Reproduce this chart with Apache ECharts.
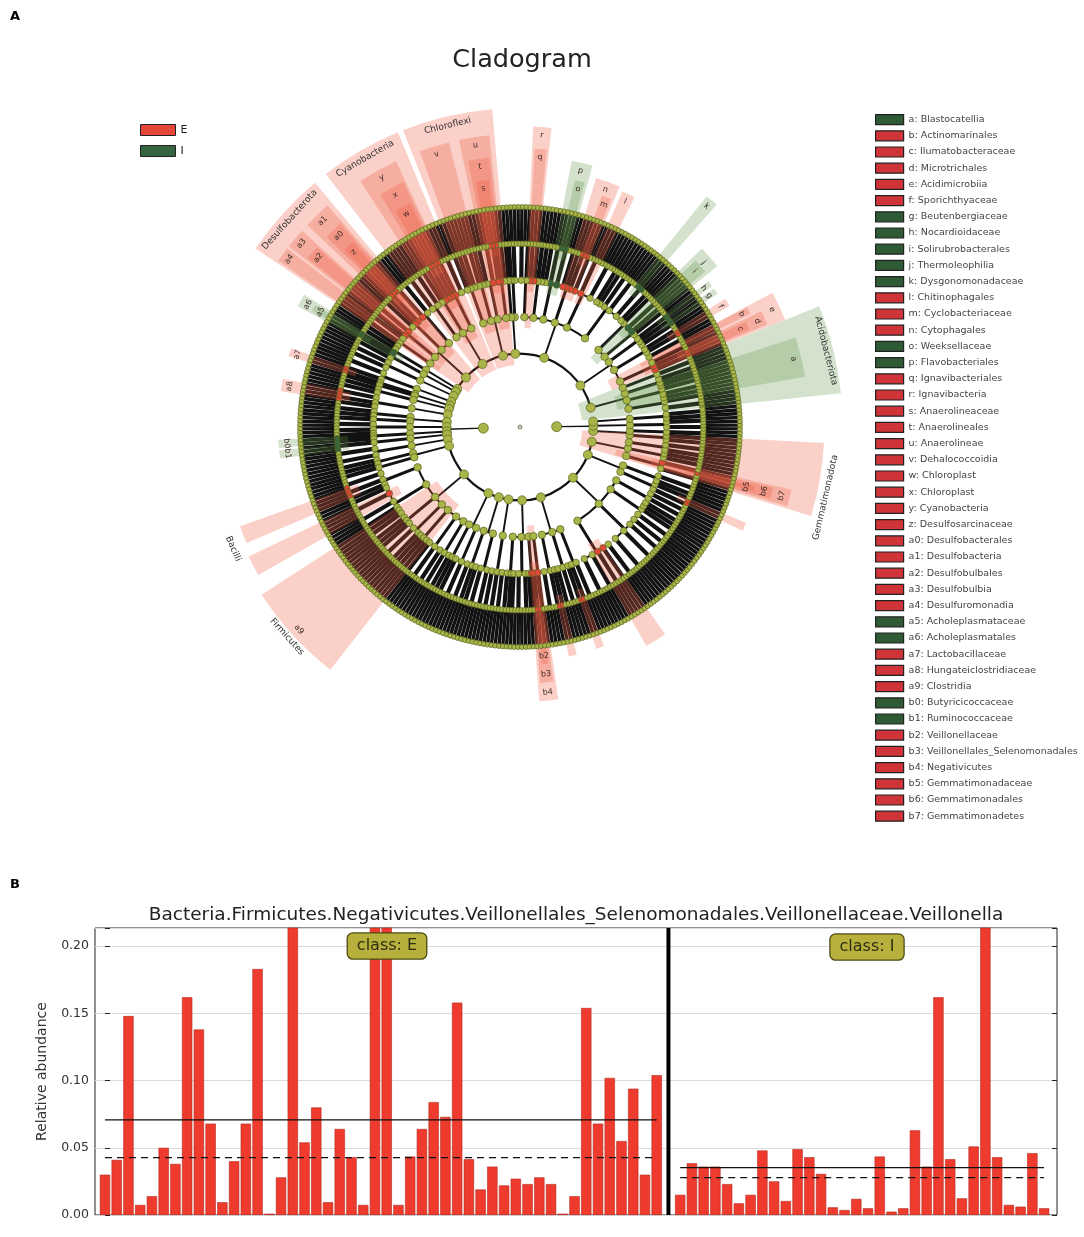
<!DOCTYPE html>
<html>
<head>
<meta charset="utf-8">
<title>Cladogram and Veillonella relative abundance</title>
<script src="https://cdn.jsdelivr.net/npm/echarts@6/dist/echarts.min.js"></script>
<style>
html,body{margin:0;padding:0;background:#ffffff;}
#chart{width:1084px;height:1237px;}
</style>
</head>
<body>
<div id="chart"></div>
<script>
// ================= Panel A : cladogram =================
const classNames = ['E', 'I'];
const classColors = ['#e4463a', '#356540'];

// biomarker legend (letter, taxon, class where enriched)
const biomarkerLetters = ['a','b','c','d','e','f','g','h','i','j','k','l','m','n','o','p','q','r','s','t','u','v','w','x','y','z','a0','a1','a2','a3','a4','a5','a6','a7','a8','a9','b0','b1','b2','b3','b4','b5','b6','b7'];
const biomarkerTaxa = ['Blastocatellia','Actinomarinales','Ilumatobacteraceae','Microtrichales','Acidimicrobiia','Sporichthyaceae','Beutenbergiaceae','Nocardioidaceae','Solirubrobacterales','Thermoleophilia','Dysgonomonadaceae','Chitinophagales','Cyclobacteriaceae','Cytophagales','Weeksellaceae','Flavobacteriales','Ignavibacteriales','Ignavibacteria','Anaerolineaceae','Anaerolineales','Anaerolineae','Dehalococcoidia','Chloroplast','Chloroplast','Cyanobacteria','Desulfosarcinaceae','Desulfobacterales','Desulfobacteria','Desulfobulbales','Desulfobulbia','Desulfuromonadia','Acholeplasmataceae','Acholeplasmatales','Lactobacillaceae','Hungateiclostridiaceae','Clostridia','Butyricicoccaceae','Ruminococcaceae','Veillonellaceae','Veillonellales_Selenomonadales','Negativicutes','Gemmatimonadaceae','Gemmatimonadales','Gemmatimonadetes'];
const biomarkerClass = 'IEEEEEIIIIIEEEIIEEEEEEEEEEEEEEEIIEEEIIEEEEEE'.split('');

// taxonomy tree: kingdom -> phyla -> classes -> orders (number = families in the order)
const bacteriaPhyla = [
  [[3,2,1],[2,2],[1,1,2],[2]],
  [[2,1,2],[3,1,2,2],[1,2],[2,1],[3,2,1]],
  [[4,3,2,2,1],[5,3,2],[2,1,2],[3,2,2],[1,2,1],[2,1,3]],
  [[2,1],[1]],
  [[2,1,1],[3,2],[1,2],[2,1,2]],
  [[3,2,1,2],[1,2],[2,3]],
  [[2,3],[2,1,2],[3,1],[2,2,1]],
  [[2,1]], [[1,2]], [[2,2]], [[3,2]], [[1],[1]], [[2,1]], [[3,1,2]],
  [[2,1],[2]], [[2,2]], [[1,1,1]], [[2]], [[3,2]], [[2,1],[2]],
  [[3,2,2,1],[4,3,2,1,2],[2,1,2],[3,2],[1,2,1],[2,3,2],[2]],
  [[2,1,2],[3]],
  [[2,2,1],[3,2]],
  [[2,2,2]],
  [[2,1,1],[3,2],[1,1,1],[2]],
  [[3,2,1],[2,2,2],[1,3]],
  [[4,3,2,3,2],[5,4,3,2],[3,2,1],[2,2,2]],
  [[2,2],[1,3]],
  [[3,2],[2,1],[2,2]]
];
const archaeaPhyla = [
  [[2,1],[2]],
  [[2,2]],
  [[1,2]]
];

// highlighted clades: [startDeg, endDeg, level, outer reach, class, letter]
const highlights = [
  [6, 22, 2, 8.8, 'I', ''],
  [10, 18, 3, 7.9, 'I', 'a'],
  [22, 28, 3, 7.8, 'E', 'e'],
  [22.5, 25.6, 4, 7.3, 'E', 'd'],
  [23, 25, 5, 6.8, 'E', 'c'],
  [26.2, 27.8, 4, 7.0, 'E', 'b'],
  [30, 32, 5, 6.6, 'E', 'f'],
  [34, 35.5, 5, 6.5, 'I', 'g'],
  [36.3, 37.8, 5, 6.5, 'I', 'h'],
  [39.2, 44.5, 3, 6.95, 'I', 'j'],
  [40, 43.5, 4, 6.6, 'I', 'i'],
  [48.5, 51, 5, 8.1, 'I', 'k'],
  [63.5, 66.5, 4, 7.0, 'E', 'l'],
  [67.5, 73, 4, 7.1, 'E', 'n'],
  [68.2, 70.5, 5, 6.7, 'E', 'm'],
  [74.5, 79, 4, 7.4, 'I', 'p'],
  [75.2, 77.5, 5, 6.9, 'I', 'o'],
  [84, 87.5, 3, 8.2, 'E', 'r'],
  [84.5, 87, 4, 7.6, 'E', 'q'],
  [95, 111.5, 2, 8.7, 'E', ''],
  [96, 102, 3, 8.0, 'E', 'u'],
  [96.5, 101, 4, 7.4, 'E', 't'],
  [97.2, 100.2, 5, 6.8, 'E', 's'],
  [104, 110, 3, 8.0, 'E', 'v'],
  [112.5, 127.5, 2, 8.7, 'E', ''],
  [115, 123, 3, 8.0, 'E', 'y'],
  [115.5, 121, 4, 7.4, 'E', 'x'],
  [116.2, 120, 5, 6.8, 'E', 'w'],
  [130, 146, 2, 8.7, 'E', ''],
  [131, 136.5, 3, 8.0, 'E', 'a1'],
  [131.5, 135.5, 4, 7.4, 'E', 'a0'],
  [132.2, 134.8, 5, 6.8, 'E', 'z'],
  [138, 142, 3, 8.0, 'E', 'a3'],
  [138.5, 141.5, 4, 7.4, 'E', 'a2'],
  [142.5, 145.5, 3, 8.0, 'E', 'a4'],
  [148.5, 151.5, 4, 6.9, 'I', 'a6'],
  [149.2, 150.8, 5, 6.5, 'I', 'a5'],
  [161, 163, 5, 6.6, 'E', 'a7'],
  [168.5, 171.5, 5, 6.6, 'E', 'a8'],
  [183, 185, 5, 6.6, 'I', 'b0'],
  [185.5, 187.5, 5, 6.6, 'I', 'b1'],
  [199.5, 203, 5, 8.1, 'E', ''],
  [205.5, 209.5, 4, 8.2, 'E', ''],
  [213, 232, 3, 8.4, 'E', 'a9'],
  [274, 278, 3, 7.5, 'E', 'b4'],
  [274.5, 277.5, 4, 7.0, 'E', 'b3'],
  [275.2, 276.8, 5, 6.5, 'E', 'b2'],
  [282, 284, 5, 6.4, 'E', ''],
  [289, 291, 5, 6.4, 'E', ''],
  [300, 305, 4, 6.9, 'E', ''],
  [335, 337, 5, 6.7, 'E', ''],
  [343, 357, 2, 8.3, 'E', ''],
  [343.5, 347, 3, 7.6, 'E', 'b7'],
  [344, 346.5, 4, 7.1, 'E', 'b6'],
  [344.6, 345.8, 5, 6.6, 'E', 'b5']
];

// full clade names written outside the circle
const cladeLabelText = ['Acidobacteriota', 'Chloroflexi', 'Cyanobacteria', 'Desulfobacterota', 'Bacilli', 'Firmicutes', 'Gemmatimonadota'];
const cladeLabelAngle = [14, 103.5, 120, 138, 203, 222, 347];
const cladeLabelRadius = [8.6, 8.45, 8.45, 8.45, 8.5, 8.55, 8.55];

// ================= Panel B : Veillonella abundance =================
const panelBTitle = 'Bacteria.Firmicutes.Negativicutes.Veillonellales_Selenomonadales.Veillonellaceae.Veillonella';
const abundanceE = [0.030,0.041,0.148,0.0075,0.014,0.050,0.038,0.162,0.138,0.068,0.0095,0.040,0.068,0.183,0.001,0.028,0.262,0.054,0.080,0.0095,0.064,0.043,0.0075,0.298,0.283,0.0075,0.0435,0.064,0.084,0.073,0.158,0.0415,0.019,0.036,0.022,0.027,0.023,0.028,0.023,0.001,0.014,0.154,0.068,0.102,0.055,0.094,0.030,0.104];
const abundanceI = [0.015,0.0385,0.036,0.036,0.023,0.0087,0.015,0.048,0.025,0.0104,0.049,0.043,0.0306,0.0057,0.0037,0.012,0.005,0.0435,0.0025,0.005,0.063,0.036,0.162,0.0415,0.0124,0.051,0.215,0.043,0.0075,0.0062,0.046,0.005];
const meanE = 0.0708, medianE = 0.0427;
const meanI = 0.0353, medianI = 0.0278;
const yTicks = [0, 0.05, 0.10, 0.15, 0.20];
const yTickLabels = ['0.00', '0.05', '0.10', '0.15', '0.20'];
const yMax = 0.2135;

// ================= build =================
const D2R = Math.PI / 180;
const colorOf = c => classColors[classNames.indexOf(c)];

function buildTree() {
  const kingdoms = [bacteriaPhyla, archaeaPhyla];
  const countFam = x => Array.isArray(x) ? x.reduce((s, y) => s + countFam(y), 0) : x;
  const total = countFam(kingdoms);
  const step = 360 / total;
  const start = 180 - countFam(bacteriaPhyla) * step / 2;
  let leaf = 0;
  const edges = [], nodes = [];
  function place(item, lvl) {
    if (lvl === 5) {
      const a = start + (leaf + 0.5) * step; leaf++;
      edges.push({lvl: 5, ang: a, cmin: a, cmax: a});
      nodes.push({lvl: 5, ang: a});
      nodes.push({lvl: 6, ang: a});
      return a;
    }
    let kids = [];
    if (lvl === 4) { for (let k = 0; k < item; k++) kids.push(place(null, 5)); }
    else kids = item.map(ch => place(ch, lvl + 1));
    const a = (kids[0] + kids[kids.length - 1]) / 2;
    edges.push({lvl: lvl, ang: a, cmin: kids[0], cmax: kids[kids.length - 1]});
    nodes.push({lvl: lvl, ang: a});
    return a;
  }
  kingdoms.forEach(k => place(k, 1));
  nodes.push({lvl: 0, ang: 0});
  return {edges, nodes};
}
const tree = buildTree();

function nodeColor(lvl, ang) {
  const a = ((ang % 360) + 360) % 360;
  if (lvl >= 4) {
    for (const h of highlights) {
      if (h[2] === lvl && a >= h[0] && a <= h[1]) return colorOf(h[4]);
    }
  }
  return lvl === 0 ? '#c9c9c9' : '#a9b548';
}
const nodeSize = [4, 10, 9, 7.5, 6.5, 5.5, 5];
const radialW = [0, 1.4, 1.9, 3.0, 4.2, 3.4];
const arcW = [0, 2.2, 2.0, 1.9, 1.7, 0];

function tangentRot(deg) {
  const a = ((deg % 360) + 360) % 360;
  return (a < 180 ? a - 90 : a + 90) * D2R;
}
function pxRadius(api, cs, r) {
  const p = api.coord([r, 0]);
  return Math.hypot(p[0] - cs.cx, p[1] - cs.cy);
}

const series = [];

// tree edges
series.push({
  type: 'custom', coordinateSystem: 'polar', z: 2, silent: true,
  data: tree.edges.map(e => [e.lvl, e.ang]),
  renderItem: function (params, api) {
    const e = tree.edges[params.dataIndex];
    const cs = params.coordSys;
    const p0 = api.coord([e.lvl, e.ang]);
    const p1 = api.coord([e.lvl + 1, e.ang]);
    const children = [{
      type: 'line',
      shape: {x1: p0[0], y1: p0[1], x2: p1[0], y2: p1[1]},
      style: {stroke: '#121212', lineWidth: radialW[e.lvl]}
    }];
    if (e.cmax - e.cmin > 0.01 && arcW[e.lvl] > 0) {
      children.push({
        type: 'arc',
        shape: {cx: cs.cx, cy: cs.cy, r: pxRadius(api, cs, e.lvl + 1),
                startAngle: -e.cmax * D2R, endAngle: -e.cmin * D2R, clockwise: true},
        style: {stroke: '#121212', lineWidth: arcW[e.lvl], fill: null}
      });
    }
    return {type: 'group', children};
  }
});

// highlight sectors
series.push({
  type: 'custom', coordinateSystem: 'polar', z: 3, silent: true,
  data: highlights.map(h => [h[3], (h[0] + h[1]) / 2]),
  renderItem: function (params, api) {
    const h = highlights[params.dataIndex];
    const cs = params.coordSys;
    const fill = h[4] === 'E' ? 'rgba(238,92,64,0.29)' : 'rgba(96,146,72,0.27)';
    return {
      type: 'sector',
      shape: {cx: cs.cx, cy: cs.cy, r0: pxRadius(api, cs, h[2] - 0.3), r: pxRadius(api, cs, h[3]),
              startAngle: -h[1] * D2R, endAngle: -h[0] * D2R, clockwise: true},
      style: {fill: fill}
    };
  }
});

// nodes
series.push({
  type: 'scatter', coordinateSystem: 'polar', z: 4, silent: true,
  symbol: 'circle',
  data: tree.nodes.map(n => ({
    value: [n.lvl, ((n.ang % 360) + 360) % 360],
    symbolSize: nodeSize[n.lvl],
    itemStyle: {color: nodeColor(n.lvl, n.ang), borderColor: '#56621d', borderWidth: 0.7, opacity: 1}
  }))
});

// letters of highlighted clades
series.push({
  type: 'custom', coordinateSystem: 'polar', z: 6, silent: true,
  data: highlights.map(h => [h[3] - 0.22, (h[0] + h[1]) / 2]),
  renderItem: function (params, api) {
    const h = highlights[params.dataIndex];
    if (!h[5]) return null;
    const mid = (h[0] + h[1]) / 2;
    const p = api.coord([h[3] - 0.22, mid]);
    return {
      type: 'text', x: p[0], y: p[1], rotation: tangentRot(mid),
      style: {text: h[5], fill: '#3a2a26', fontSize: 8, fontFamily: 'DejaVu Sans', align: 'center', verticalAlign: 'middle'}
    };
  }
});

// full clade names
series.push({
  type: 'custom', coordinateSystem: 'polar', z: 6, silent: true,
  data: cladeLabelText.map((t, i) => [cladeLabelRadius[i], cladeLabelAngle[i]]),
  renderItem: function (params, api) {
    const i = params.dataIndex;
    const p = api.coord([cladeLabelRadius[i], cladeLabelAngle[i]]);
    return {
      type: 'text', x: p[0], y: p[1], rotation: tangentRot(cladeLabelAngle[i]),
      style: {text: cladeLabelText[i], fill: '#333', fontSize: 9, fontFamily: 'DejaVu Sans', align: 'center', verticalAlign: 'middle'}
    };
  }
});

// legend carrier series
classNames.forEach((c, i) => series.push({
  type: 'scatter', coordinateSystem: 'polar', name: c, data: [], itemStyle: {color: classColors[i], opacity: 1}
}));
const taxaLegendNames = biomarkerLetters.map((l, i) => l + ': ' + biomarkerTaxa[i]);
taxaLegendNames.forEach((n, i) => series.push({
  type: 'scatter', coordinateSystem: 'polar', name: n, data: [],
  itemStyle: {color: biomarkerClass[i] === 'E' ? '#cf3438' : '#2e5a36', opacity: 1}
}));

// ---- Panel B series ----
const iStart = abundanceE.length + 1;
const barData = abundanceE.map((v, i) => [i, v]).concat(abundanceI.map((v, j) => [iStart + j, v]));
series.push({
  type: 'bar', xAxisIndex: 0, yAxisIndex: 0, z: 2, silent: true,
  data: barData, barWidth: '88%', clip: true,
  itemStyle: {color: '#ee3b2d', borderColor: '#b32b21', borderWidth: 0.6}
});
function hline(x0, x1, y, dashed) {
  return {
    type: 'line', xAxisIndex: 0, yAxisIndex: 0, z: 5, silent: true, symbol: 'none',
    data: [[x0, y], [x1, y]],
    lineStyle: {color: '#111', width: 1.3, type: dashed ? [7, 5] : 'solid'}
  };
}
series.push(hline(0, abundanceE.length - 1, meanE, false));
series.push(hline(0, abundanceE.length - 1, medianE, true));
series.push(hline(iStart, iStart + abundanceI.length - 1, meanI, false));
series.push(hline(iStart, iStart + abundanceI.length - 1, medianI, true));
series.push({
  type: 'line', xAxisIndex: 0, yAxisIndex: 0, z: 6, silent: true, symbol: 'none',
  data: [[abundanceE.length, 0], [abundanceE.length, yMax]],
  lineStyle: {color: '#000', width: 4}
});

const tickLabel = v => {
  const i = yTicks.findIndex(t => Math.abs(t - v) < 1e-9);
  return i < 0 ? '' : yTickLabels[i];
};

const option = {
  animation: false,
  backgroundColor: '#ffffff',
  textStyle: {fontFamily: 'DejaVu Sans'},
  polar: {center: [520, 427], radius: 330},
  radiusAxis: {type: 'value', min: 0, max: 9, show: false, axisLine: {show: false}, splitLine: {show: false}},
  angleAxis: {type: 'value', min: 0, max: 360, startAngle: 0, clockwise: false, show: false,
              axisLine: {show: false}, splitLine: {show: false}, axisTick: {show: false}, axisLabel: {show: false}},
  grid: {left: 95, right: 27, top: 928, bottom: 22, show: true, borderColor: '#222', borderWidth: 1, containLabel: false},
  xAxis: [{type: 'value', gridIndex: 0, min: -0.85, max: 81.1, show: false}],
  yAxis: [
    {type: 'value', gridIndex: 0, min: 0, max: yMax, interval: 0.05, position: 'left',
     axisLine: {show: false}, axisTick: {show: true, inside: true, length: 5, lineStyle: {color: '#222'}},
     axisLabel: {fontSize: 12.5, color: '#333', margin: 6, formatter: tickLabel},
     splitLine: {show: true, lineStyle: {color: '#dadada', width: 1}},
     name: 'Relative abundance', nameLocation: 'middle', nameGap: 46,
     nameTextStyle: {fontSize: 14, color: '#333'}},
    {type: 'value', gridIndex: 0, min: 0, max: yMax, interval: 0.05, position: 'right',
     axisLine: {show: false}, axisTick: {show: true, inside: true, length: 5, lineStyle: {color: '#222'}},
     axisLabel: {show: false}, splitLine: {show: false}}
  ],
  legend: [
    {data: classNames, orient: 'vertical', left: 140, top: 124, padding: 0,
     itemWidth: 35, itemHeight: 11, itemGap: 9, icon: 'rect', selectedMode: false,
     itemStyle: {borderColor: '#222', borderWidth: 1},
     textStyle: {fontSize: 11, color: '#222', lineHeight: 11}},
    {data: taxaLegendNames, orient: 'vertical', left: 875, top: 114, padding: 0,
     itemWidth: 28, itemHeight: 10, itemGap: 5, icon: 'rect', selectedMode: false,
     itemStyle: {borderColor: '#222', borderWidth: 1.2},
     textStyle: {fontSize: 9.5, color: '#444', lineHeight: 10}}
  ],
  graphic: [
    {type: 'text', x: 10, y: 10, z: 100, style: {text: 'A', fontSize: 13, fontWeight: 'bold', fill: '#000', fontFamily: 'DejaVu Sans'}},
    {type: 'text', x: 10, y: 878, z: 100, style: {text: 'B', fontSize: 13, fontWeight: 'bold', fill: '#000', fontFamily: 'DejaVu Sans'}},
    {type: 'text', x: 522, y: 60, z: 100, style: {text: 'Cladogram', fontSize: 25.5, fill: '#222', align: 'center', verticalAlign: 'middle', fontFamily: 'DejaVu Sans'}},
    {type: 'text', x: 576, y: 915, z: 100, style: {text: panelBTitle, fontSize: 18.5, fill: '#222', align: 'center', verticalAlign: 'middle', fontFamily: 'DejaVu Sans'}},
    {type: 'text', x: 387, y: 946, z: 100, style: {text: 'class: E', fontSize: 16, fill: '#2e2e12', align: 'center', verticalAlign: 'middle', fontFamily: 'DejaVu Sans',
      backgroundColor: '#b7b03c', borderColor: '#4f4b16', borderWidth: 1.3, borderRadius: 5, padding: [5, 9, 4, 9]}},
    {type: 'text', x: 867, y: 947, z: 100, style: {text: 'class: I', fontSize: 16, fill: '#2e2e12', align: 'center', verticalAlign: 'middle', fontFamily: 'DejaVu Sans',
      backgroundColor: '#b7b03c', borderColor: '#4f4b16', borderWidth: 1.3, borderRadius: 5, padding: [5, 9, 4, 9]}}
  ],
  series: series
};

const chart = echarts.init(document.getElementById('chart'), null, {renderer: 'canvas'});
chart.setOption(option);
</script>
</body>
</html>
